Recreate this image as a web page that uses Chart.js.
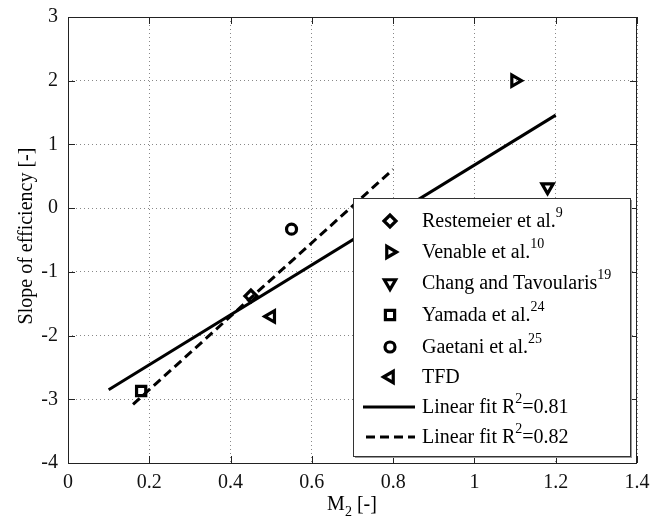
<!DOCTYPE html>
<html>
<head>
<meta charset="utf-8">
<script src="https://cdn.jsdelivr.net/npm/chart.js@4/dist/chart.umd.min.js"></script>
<style>
html,body{margin:0;padding:0;background:#fff;}
#wrap{width:651px;height:522px;position:relative;}
</style>
</head>
<body>
<div id="wrap"><canvas id="c" width="651" height="522"></canvas></div>
<script>
// ---- data ----
const seriesNames = ['Restemeier et al.', 'Venable et al.', 'Chang and Tavoularis', 'Yamada et al.', 'Gaetani et al.', 'TFD'];
const seriesRefs = ['9', '10', '19', '24', '25', ''];
const pointX = [0.45, 1.10, 1.18, 0.18, 0.55, 0.50];
const pointY = [-1.38, 2.00, 0.33, -2.87, -0.33, -1.70];
const fitSolidX = [0.10, 1.20];
const fitSolidY = [-2.85, 1.46];
const fitDashedX = [0.16, 0.80];
const fitDashedY = [-3.08, 0.61];
const fitLabels = ['Linear fit R', 'Linear fit R'];
const fitR2 = ['=0.81', '=0.82'];
const xTicks = [0, 0.2, 0.4, 0.6, 0.8, 1, 1.2, 1.4];
const yTicks = [3, 2, 1, 0, -1, -2, -3, -4];

// ---- styles ----
const FONT = '"Liberation Serif", "Times New Roman", serif';
const MW = 3.2;
const markerStyles = [
  {pointStyle: 'rectRot', radius: 6, rotation: 0},
  {pointStyle: 'triangle', radius: 6.5, rotation: 90},
  {pointStyle: 'triangle', radius: 6.5, rotation: 180},
  {pointStyle: 'rect', radius: 6.5, rotation: 0},
  {pointStyle: 'circle', radius: 5, rotation: 0},
  {pointStyle: 'triangle', radius: 6.5, rotation: 270}
];

const datasets = [];
datasets.push({
  label: 'fit1', data: fitSolidX.map((x, i) => ({x, y: fitSolidY[i]})),
  showLine: true, borderColor: '#000', borderWidth: 3, pointRadius: 0, fill: false
});
datasets.push({
  label: 'fit2', data: fitDashedX.map((x, i) => ({x, y: fitDashedY[i]})),
  showLine: true, borderColor: '#000', borderWidth: 3, borderDash: [9, 5], pointRadius: 0, fill: false
});
seriesNames.forEach((n, i) => {
  datasets.push({
    label: n, data: [{x: pointX[i], y: pointY[i]}],
    showLine: false, borderColor: '#000', backgroundColor: 'rgba(0,0,0,0)',
    borderWidth: MW, pointStyle: markerStyles[i].pointStyle,
    pointRadius: markerStyles[i].radius, pointRotation: markerStyles[i].rotation,
    pointHoverRadius: markerStyles[i].radius
  });
});

function supText(ctx, x, y, base, sup, tail, size) {
  ctx.font = size + 'px ' + FONT;
  ctx.fillText(base, x, y);
  let w = ctx.measureText(base).width;
  if (sup) {
    ctx.font = Math.round(size * 0.7) + 'px ' + FONT;
    ctx.fillText(sup, x + w, y - size * 0.42);
    w += ctx.measureText(sup).width;
  }
  if (tail) {
    ctx.font = size + 'px ' + FONT;
    ctx.fillText(tail, x + w, y);
  }
}

function zeroPad(s) { s.paddingLeft = 0; s.paddingRight = 0; s.paddingTop = 0; s.paddingBottom = 0; }

const decor = {
  id: 'decor',
  afterDraw(chart) {
    const ctx = chart.ctx;
    const a = chart.chartArea;
    const xs = chart.scales.x, ys = chart.scales.y;
    ctx.save();
    // frame
    ctx.strokeStyle = '#222';
    ctx.lineWidth = 1;
    ctx.setLineDash([]);
    ctx.strokeRect(Math.round(a.left) + 0.5, Math.round(a.top) + 0.5, Math.round(a.right - a.left) - 1, Math.round(a.bottom - a.top));
    // inward ticks
    const tl = 7;
    ctx.beginPath();
    xTicks.forEach(v => {
      const px = Math.round(xs.getPixelForValue(v)) + 0.5;
      ctx.moveTo(px, a.bottom); ctx.lineTo(px, a.bottom - tl);
      ctx.moveTo(px, a.top); ctx.lineTo(px, a.top + tl);
    });
    yTicks.forEach(v => {
      const py = Math.round(ys.getPixelForValue(v)) + 0.5;
      ctx.moveTo(a.left, py); ctx.lineTo(a.left + tl, py);
      ctx.moveTo(a.right, py); ctx.lineTo(a.right - tl, py);
    });
    ctx.stroke();

    // legend box
    const lx = 353, ly = 198, lw = 277, lh = 258;
    ctx.fillStyle = '#fff';
    ctx.fillRect(lx, ly, lw, lh);
    ctx.strokeStyle = '#999';
    ctx.lineWidth = 2;
    ctx.beginPath();
    ctx.moveTo(lx + lw + 1, ly + 2); ctx.lineTo(lx + lw + 1, ly + lh + 1); ctx.lineTo(lx + 2, ly + lh + 1);
    ctx.stroke();
    ctx.strokeStyle = '#333';
    ctx.lineWidth = 1;
    ctx.strokeRect(lx + 0.5, ly + 0.5, lw, lh);

    const rows = [221, 252, 283, 315, 347, 377, 407, 437];
    ctx.fillStyle = '#000';
    ctx.textBaseline = 'middle';
    ctx.textAlign = 'left';
    seriesNames.forEach((n, i) => {
      ctx.strokeStyle = '#000';
      ctx.fillStyle = 'rgba(0,0,0,0)';
      ctx.lineWidth = MW;
      Chart.helpers.drawPoint(ctx, {pointStyle: markerStyles[i].pointStyle, radius: markerStyles[i].radius, rotation: markerStyles[i].rotation, borderWidth: MW}, 390, rows[i]);
      ctx.fillStyle = '#000';
      supText(ctx, 422, rows[i] + 1, n, seriesRefs[i], '', 20);
    });
    // fit lines in legend
    ctx.strokeStyle = '#000';
    ctx.lineWidth = 3;
    ctx.beginPath(); ctx.setLineDash([]);
    ctx.moveTo(363, rows[6]); ctx.lineTo(415, rows[6]); ctx.stroke();
    ctx.beginPath(); ctx.setLineDash([9, 5]);
    ctx.moveTo(366, rows[7]); ctx.lineTo(415, rows[7]); ctx.stroke();
    ctx.setLineDash([]);
    ctx.fillStyle = '#000';
    supText(ctx, 422, rows[6] + 1, fitLabels[0], '2', fitR2[0], 20);
    supText(ctx, 422, rows[7] + 1, fitLabels[1], '2', fitR2[1], 20);

    // axis titles
    ctx.font = '20px ' + FONT;
    ctx.textBaseline = 'middle';
    ctx.save();
    ctx.translate(27, 236);
    ctx.rotate(-Math.PI / 2);
    ctx.textAlign = 'center';
    ctx.fillText('Slope of efficiency [-]', 0, 0);
    ctx.restore();
    // x title M_2 [-]
    ctx.textAlign = 'left';
    const mW = ctx.measureText('M').width;
    ctx.font = '14px ' + FONT;
    const sW = ctx.measureText('2').width;
    ctx.font = '20px ' + FONT;
    const tW = ctx.measureText(' [-]').width;
    let sx = 352 - (mW + sW + tW) / 2;
    const sy = 505;
    ctx.fillText('M', sx, sy);
    ctx.font = '14px ' + FONT;
    ctx.fillText('2', sx + mW, sy + 7);
    ctx.font = '20px ' + FONT;
    ctx.fillText(' [-]', sx + mW + sW, sy);
    ctx.restore();
  }
};

new Chart(document.getElementById('c'), {
  type: 'scatter',
  data: {datasets},
  options: {
    responsive: false,
    animation: false,
    events: [],
    layout: {padding: {top: 17, right: 14, left: 0, bottom: 0}},
    plugins: {legend: {display: false}, tooltip: {enabled: false}},
    scales: {
      x: {
        type: 'linear', min: 0, max: 1.4,
        afterFit(s) { s.height = 59; zeroPad(s); },
        afterBuildTicks(s) { s.ticks = xTicks.map(v => ({value: v})); },
        grid: {color: '#888', lineWidth: 1, drawTicks: false},
        border: {display: false, dash: [1, 3]},
        ticks: {padding: 8, color: '#111', font: {family: FONT, size: 20}, callback: v => String(+v.toFixed(1))}
      },
      y: {
        type: 'linear', min: -4, max: 3,
        afterFit(s) { s.width = 68; zeroPad(s); },
        afterBuildTicks(s) { s.ticks = yTicks.map(v => ({value: v})); },
        grid: {color: '#888', lineWidth: 1, drawTicks: false},
        border: {display: false, dash: [1, 3]},
        ticks: {padding: 10, color: '#111', font: {family: FONT, size: 20}, callback: v => String(v)}
      }
    }
  },
  plugins: [decor]
});
</script>
</body>
</html>
